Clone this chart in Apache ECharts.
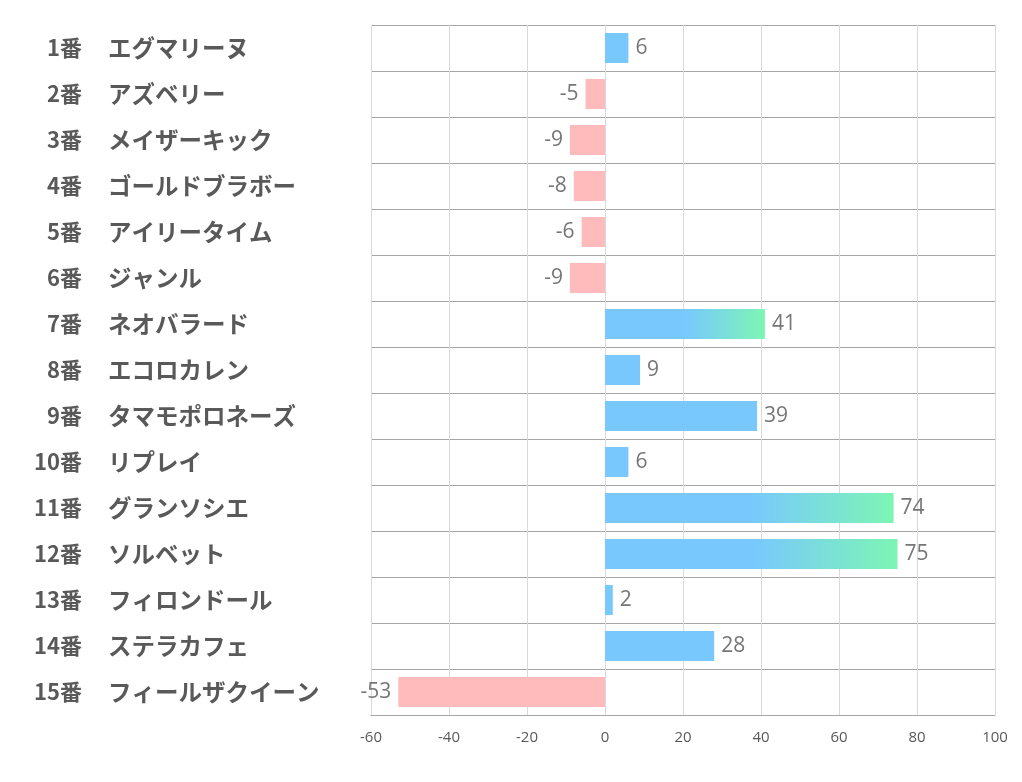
<!DOCTYPE html>
<html><head><meta charset="utf-8">
<script src="https://cdn.jsdelivr.net/npm/echarts@6/dist/echarts.min.js"></script>
<style>html,body{margin:0;padding:0;background:#fff}#c{width:1022px;height:782px}</style>
</head><body><div id="c"></div>
<script>
const numbers = ['1番','2番','3番','4番','5番','6番','7番','8番','9番','10番','11番','12番','13番','14番','15番'];
const names = ['エグマリーヌ','アズベリー','メイザーキック','ゴールドブラボー','アイリータイム','ジャンル','ネオバラード','エコロカレン','タマモポロネーズ','リプレイ','グランソシエ','ソルベット','フィロンドール','ステラカフェ','フィールザクイーン'];
const values = [6,-5,-9,-8,-6,-9,41,9,39,6,74,75,2,28,-53];
const xTicks = [-60,-40,-20,0,20,40,60,80,100];

const BLUE = '#78c8fe', GREEN = '#7df5b4', PINK = '#ffbbbb';
const data = values.map(v=>{
  let color;
  if (v < 0) color = PINK;
  else if (v > 40) color = new echarts.graphic.LinearGradient(0,0,1,0,[{offset:0,color:BLUE},{offset:0.5,color:BLUE},{offset:1,color:GREEN}]);
  else color = BLUE;
  return {value:v, itemStyle:{color}, label:{position: v<0?'left':'right'}};
});
const labelFont = {fontWeight:'bold',color:'#595959',fontFamily:'Noto Sans CJK JP'};

const chart = echarts.init(document.getElementById('c'));
chart.setOption({
  animation:false,
  grid:{left:371,right:27,top:25,bottom:67,containLabel:false},
  xAxis:{type:'value',min:-60,max:100,interval:20,
    axisLine:{show:true,lineStyle:{color:'#a6a6a6'}},axisTick:{show:false},
    splitLine:{show:true,lineStyle:{color:'#d9d9d9'}},
    axisLabel:{color:'#595959',fontSize:15,margin:15,fontFamily:'Open Sans',
      formatter:v=>xTicks.includes(v)?String(v):''}},
  yAxis:[
    {type:'category',data:numbers,inverse:true,position:'left',
      axisLine:{show:false},axisTick:{show:false},
      splitLine:{show:true,lineStyle:{color:'#a6a6a6'}},
      axisLabel:Object.assign({align:'right',margin:289,fontSize:22},labelFont)},
    {type:'category',data:names,inverse:true,position:'left',offset:0,
      axisLine:{show:false},axisTick:{show:false},splitLine:{show:false},
      axisLabel:Object.assign({align:'left',margin:263,fontSize:23.5},labelFont)}
  ],
  series:[{type:'bar',data:data,barWidth:30,yAxisIndex:0,
    label:{show:true,fontSize:21,color:'#767676',distance:7,fontFamily:'Open Sans',padding:[6,0,0,0]}}]
});
</script></body></html>
